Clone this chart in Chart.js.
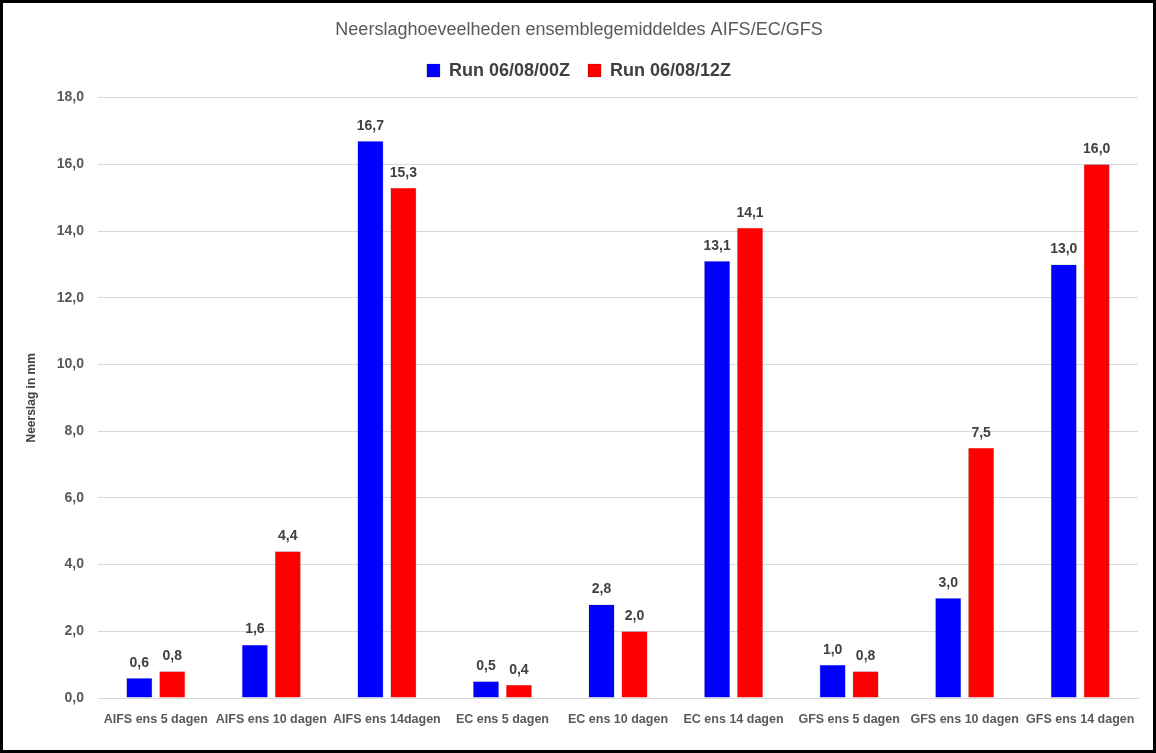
<!DOCTYPE html>
<html>
<head>
<meta charset="utf-8">
<script src="https://cdn.jsdelivr.net/npm/chart.js@4"></script>
<style>
  html, body { margin: 0; padding: 0; background: #fff; }
  #wrap { width: 1156px; height: 753px; position: relative; }
</style>
</head>
<body>
<div id="wrap"><canvas id="chart"></canvas></div>
<script>
const categories = [
    'AIFS ens 5 dagen', 'AIFS ens 10 dagen', 'AIFS ens 14dagen',
    'EC ens 5 dagen', 'EC ens 10 dagen', 'EC ens 14 dagen',
    'GFS ens 5 dagen', 'GFS ens 10 dagen', 'GFS ens 14 dagen'
];
const run00 = [0.6, 1.6, 16.7, 0.5, 2.8, 13.1, 1.0, 3.0, 13.0];
const run12 = [0.8, 4.4, 15.3, 0.4, 2.0, 14.1, 0.8, 7.5, 16.0];
const seriesNames = ['Run 06/08/00Z', 'Run 06/08/12Z'];
const seriesColors = ['#0000FF', '#FF0000'];

const fmt = v => v.toFixed(1).replace('.', ',');
const FONT = '"Liberation Sans", Arial, sans-serif';

// white background + black frame round the whole picture
const framePlugin = {
    id: 'frame',
    afterInit(chart) {
        // a bit more room under the legend
        const lg = chart.legend;
        if (lg) {
            const fit = lg.fit.bind(lg);
            lg.fit = function () { fit(); this.height += 8; };
        }
    },
    beforeDraw(chart) {
        const { ctx, width, height } = chart;
        ctx.save();
        ctx.fillStyle = '#fff';
        ctx.fillRect(0, 0, width, height);
        ctx.restore();
    },
    afterDraw(chart) {
        const { ctx, width, height } = chart;
        ctx.save();
        ctx.strokeStyle = '#000';
        ctx.lineWidth = 3;
        ctx.strokeRect(1.5, 1.5, width - 3, height - 3);
        ctx.restore();
    }
};

// value labels above the bars
const valueLabels = {
    id: 'valueLabels',
    afterDatasetsDraw(chart) {
        const { ctx } = chart;
        ctx.save();
        ctx.font = 'bold 14px ' + FONT;
        ctx.fillStyle = '#404040';
        ctx.textAlign = 'center';
        ctx.textBaseline = 'bottom';
        chart.data.datasets.forEach((ds, i) => {
            chart.getDatasetMeta(i).data.forEach((bar, j) => {
                ctx.fillText(fmt(ds.data[j]), bar.x, bar.y - 8);
            });
        });
        ctx.restore();
    }
};

const datasets = [run00, run12].map((data, i) => ({
    label: seriesNames[i],
    data,
    backgroundColor: seriesColors[i],
    borderColor: 'rgba(0,0,0,0.35)',
    borderWidth: 0.5,
    categoryPercentage: 0.57,
    barPercentage: 0.79
}));

new Chart(document.getElementById('chart'), {
    type: 'bar',
    data: { labels: categories, datasets },
    plugins: [framePlugin, valueLabels],
    options: {
        responsive: true,
        maintainAspectRatio: false,
        animation: false,
        layout: { padding: { left: 20, right: 18, top: 17, bottom: 20 } },
        plugins: {
            title: {
                display: true,
                text: 'Neerslaghoeveelheden ensemblegemiddeldes AIFS/EC/GFS',
                color: '#595959',
                font: { family: FONT, size: 18, weight: 'normal' },
                padding: { top: 2, bottom: 3 }
            },
            legend: {
                position: 'top',
                labels: {
                    color: '#404040',
                    boxWidth: 13,
                    boxHeight: 13,
                    padding: 18,
                    font: { family: FONT, size: 18, weight: 'bold' }
                }
            },
            tooltip: { enabled: false }
        },
        scales: {
            x: {
                grid: { display: false },
                border: { color: '#d9d9d9' },
                ticks: {
                    color: '#595959',
                    maxRotation: 0,
                    autoSkip: false,
                    padding: 6,
                    font: { family: FONT, size: 12.5, weight: 'bold' }
                }
            },
            y: {
                min: 0,
                max: 18,
                afterFit(scale) { scale.width = 78; },
                title: {
                    display: true,
                    text: 'Neerslag in mm',
                    color: '#404040',
                    font: { family: FONT, size: 12, weight: 'bold' }
                },
                grid: { color: '#d9d9d9', drawTicks: false },
                border: { display: false },
                ticks: {
                    stepSize: 2,
                    padding: 14,
                    color: '#595959',
                    callback: v => fmt(v),
                    font: { family: FONT, size: 14, weight: 'bold' }
                }
            }
        }
    }
});
</script>
</body>
</html>
